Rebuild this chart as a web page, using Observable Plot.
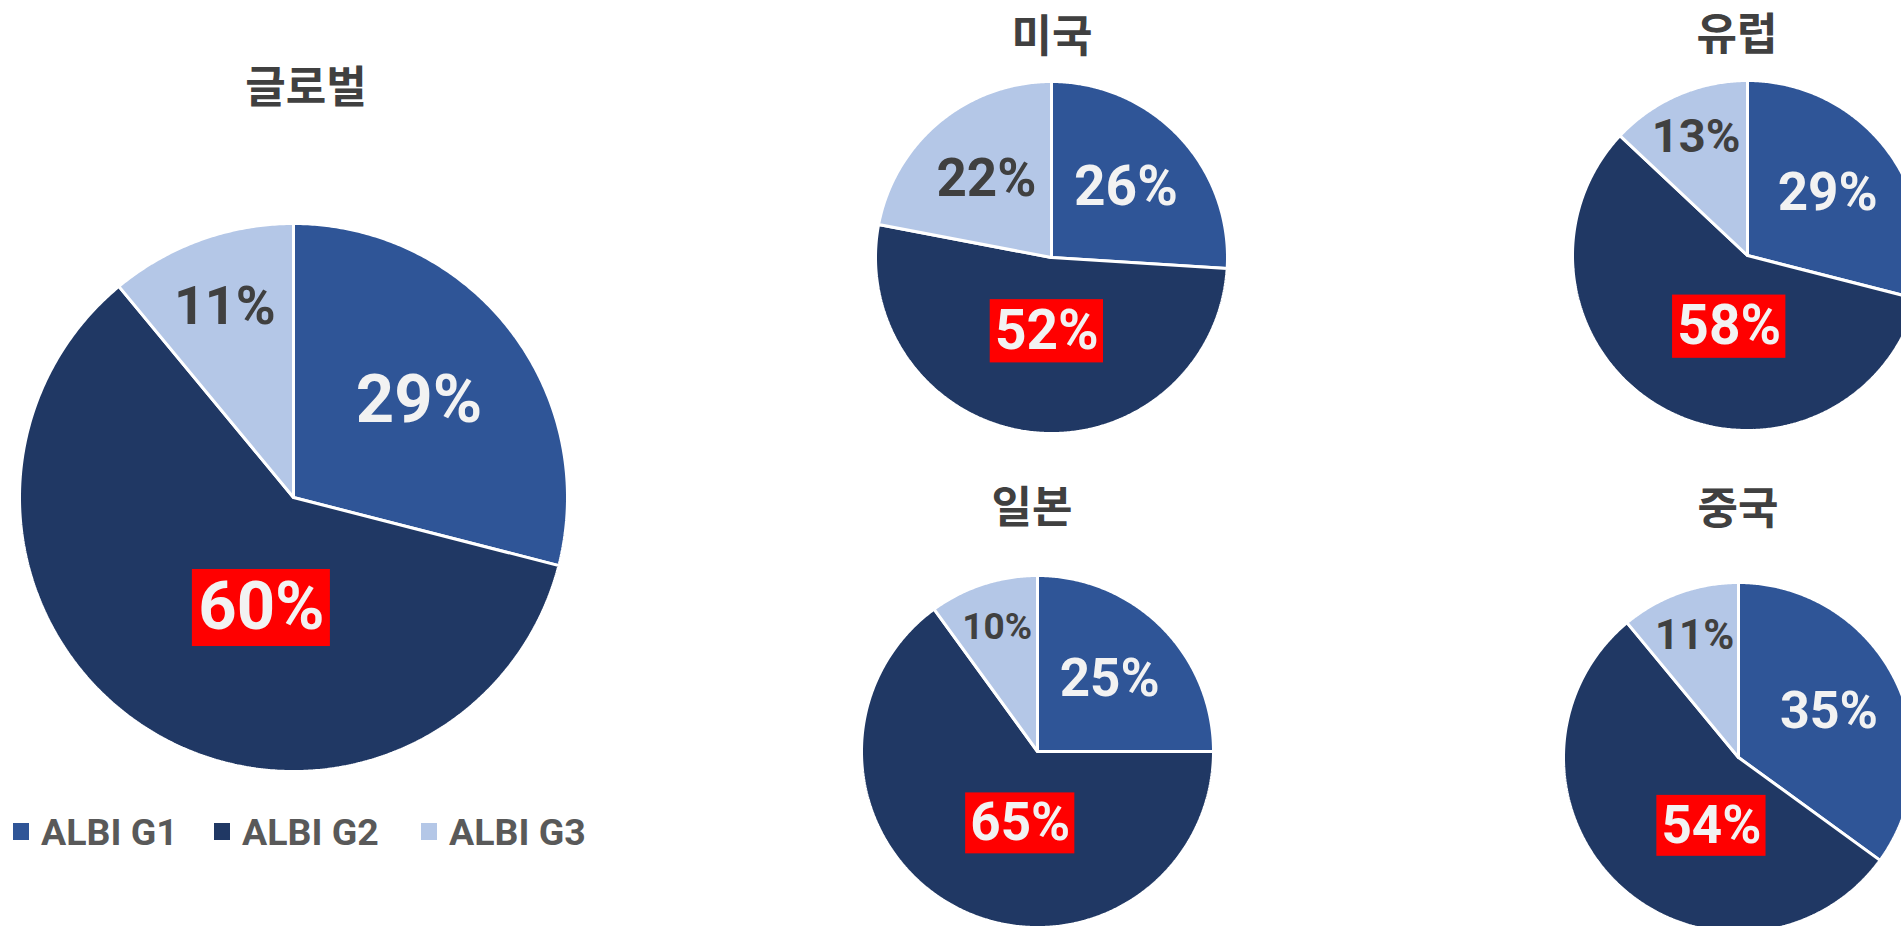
<!DOCTYPE html>
<html>
<head>
<meta charset="utf-8">
<script src="https://cdn.jsdelivr.net/npm/d3@7"></script>
<script src="https://cdn.jsdelivr.net/npm/@observablehq/plot@0.6"></script>
<style>
  html, body { margin: 0; padding: 0; background: #ffffff; width: 1901px; height: 926px; overflow: hidden; }
  #root { position: relative; width: 1901px; height: 926px; overflow: hidden; }
  .pie { position: absolute; }
  .pie svg { background: transparent !important; max-width: none !important; overflow: visible; }
  .title { position: absolute; transform: translate(-50%, -50%); white-space: nowrap;
           font-family: "Noto Sans CJK KR", sans-serif; font-weight: 700; font-size: 44px;
           line-height: 44px; color: #404040; }
  .lg-sw { position: absolute; width: 16px; height: 17px; }
  .lg-tx { position: absolute; transform: translateY(-50%); white-space: nowrap;
           font-family: Roboto, "Noto Sans CJK KR", sans-serif; font-weight: 700; font-size: 37.5px;
           line-height: 38px; color: #595959; }
</style>
</head>
<body>
<div id="root"></div>
<script>
// ---------------- data ----------------
const regions = ["글로벌", "미국", "유럽", "일본", "중국"];
const seriesNames = ["ALBI G1", "ALBI G2", "ALBI G3"];
const g1 = [29, 26, 29, 25, 35];
const g2 = [60, 52, 58, 65, 54];
const g3 = [11, 22, 13, 10, 11];
const seriesColors = ["#2F5597", "#203864", "#B4C7E7"];

// ---------------- layout (pixels) ----------------
const layout = [
  {cx: 293,  cy: 497, r: 274, tx: 306,  ty: 84,  fs: [67, 67, 54]},
  {cx: 1051, cy: 257, r: 176, tx: 1052, ty: 33,  fs: [55, 55, 53]},
  {cx: 1747, cy: 255, r: 175, tx: 1737, ty: 31,  fs: [53, 55, 47]},
  {cx: 1037, cy: 751, r: 176, tx: 1032, ty: 504, fs: [53, 53, 37]},
  {cx: 1738, cy: 757, r: 175, tx: 1738, ty: 505, fs: [52, 53, 42]}
];
// radial placement of a label, by slice share: thin slices push the label outward
const labelFrac = v => (v < 20 ? 0.74 : v < 45 ? 0.58 : 0.42);
const legendLayout = {swatchX: [13, 214, 421], textX: [41, 242, 449], y: 832};

const root = document.getElementById("root");
const rad = d => d * Math.PI / 180;

regions.forEach((name, i) => {
  const L = layout[i];
  const vals = [g1[i], g2[i], g3[i]];
  const total = d3.sum(vals);

  // slice polygons (angles clockwise from 12 o'clock)
  const pts = [];
  const labels = [];
  let acc = 0;
  vals.forEach((v, s) => {
    const a0 = acc / total * 360;
    const a1 = (acc + v) / total * 360;
    acc += v;
    const n = Math.max(2, Math.ceil((a1 - a0) / 0.5) + 1);
    pts.push({series: seriesNames[s], x: 0, y: 0});
    for (let k = 0; k < n; k++) {
      const a = rad(a0 + (a1 - a0) * k / (n - 1));
      pts.push({series: seriesNames[s], x: Math.sin(a), y: Math.cos(a)});
    }
    pts.push({series: seriesNames[s], x: 0, y: 0});
    const mid = (a0 + a1) / 2;
    const ang = s === 1 ? 180 + (mid - 180) * 0.5 : mid;
    const f = labelFrac(v / total * 100);
    labels.push({
      series: seriesNames[s], s,
      text: v + "%",
      x: f * Math.sin(rad(ang)),
      y: f * Math.cos(rad(ang)),
      fs: L.fs[s]
    });
  });

  const hi = labels.filter(d => d.s === 1);
  const boxes = hi.map(d => {
    const hw = d.fs * 1.03 / L.r, hh = d.fs * 0.575 / L.r;
    return {x1: d.x - hw, x2: d.x + hw, y1: d.y - hh, y2: d.y + hh};
  });

  const pad = 3;
  const size = 2 * L.r + 2 * pad;
  const chart = Plot.plot({
    width: size,
    height: size,
    margin: pad,
    x: {domain: [-1, 1], axis: null},
    y: {domain: [-1, 1], axis: null},
    color: {domain: seriesNames, range: seriesColors},
    style: {background: "transparent", overflow: "visible"},
    marks: [
      Plot.line(pts, {x: "x", y: "y", z: "series", fill: "series", stroke: "#ffffff",
                      strokeWidth: 3, strokeLinejoin: "miter", curve: "linear"}),
      Plot.rect(boxes, {x1: "x1", x2: "x2", y1: "y1", y2: "y2", fill: "#FF0000"}),
      Plot.text(labels.filter(d => d.s !== 2), {x: "x", y: "y", text: "text", fontSize: "fs",
                      fill: "#F2F2F2", fontWeight: 700, fontFamily: "Roboto, sans-serif"}),
      Plot.text(labels.filter(d => d.s === 2), {x: "x", y: "y", text: "text", fontSize: "fs",
                      fill: "#404040", fontWeight: 700, fontFamily: "Roboto, sans-serif"})
    ]
  });
  const wrap = document.createElement("div");
  wrap.className = "pie";
  wrap.style.left = (L.cx - L.r - pad) + "px";
  wrap.style.top = (L.cy - L.r - pad) + "px";
  wrap.appendChild(chart);
  root.appendChild(wrap);

  const t = document.createElement("div");
  t.className = "title";
  t.textContent = name;
  t.style.left = L.tx + "px";
  t.style.top = L.ty + "px";
  root.appendChild(t);
});

// legend
seriesNames.forEach((s, k) => {
  const sw = document.createElement("div");
  sw.className = "lg-sw";
  sw.style.background = seriesColors[k];
  sw.style.left = legendLayout.swatchX[k] + "px";
  sw.style.top = (legendLayout.y - 9) + "px";
  root.appendChild(sw);
  const tx = document.createElement("div");
  tx.className = "lg-tx";
  tx.textContent = s;
  tx.style.left = legendLayout.textX[k] + "px";
  tx.style.top = legendLayout.y + "px";
  root.appendChild(tx);
});
</script>
</body>
</html>
